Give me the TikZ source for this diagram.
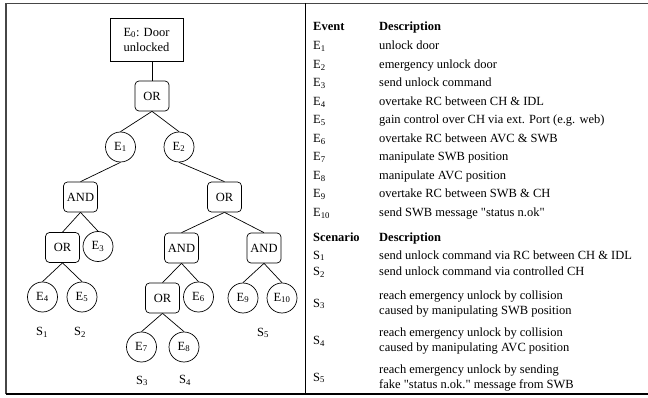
\documentclass[tikz,border=0pt]{standalone}
\usepackage{fontspec}
\setmainfont{Liberation Serif}[Ligatures=TeXOff]
\begin{document}
\begin{tikzpicture}[x=1pt, y=-1pt,
  font=\fontsize{12.5}{15}\selectfont,
  gate/.style={draw, rounded corners=4pt, minimum width=34pt, minimum height=30pt, inner sep=0pt, line width=0.7pt},
  ev/.style={draw, circle, minimum size=30pt, inner sep=0pt, line width=0.7pt},
  link/.style={line width=0.7pt},
  cell/.style={anchor=base west, inner sep=0pt},
  multi/.style={anchor=west, inner sep=0pt, align=left},
  frame/.style={line width=1.3pt, gray!55!black}]
\useasboundingbox (0,0) rectangle (648,398);

% frame and divider
\coordinate (ftl) at (6,3.5);
\coordinate (ftr) at (648,3.5);
\coordinate (fbl) at (6,394);
\coordinate (fbr) at (648,394);
\coordinate (dt) at (305,3.5);
\coordinate (db) at (305,394);
\draw[frame] (ftr) -- (ftl) -- (fbl);
\draw[line width=1.3pt] (fbl) -- (fbr);
\draw[line width=0.8pt] (dt) -- (db);

% fault tree
\node[draw, line width=0.7pt, minimum width=73pt, minimum height=43pt, inner sep=0pt, align=center]
  (top) at (146.5,39.5) {E\textsubscript{0}: Door\\unlocked};
\node[gate] (or1) at (152,96) {OR};
\node[ev] (e1) at (120.5,147) {E\textsubscript{1}};
\node[ev] (e2) at (179,147) {E\textsubscript{2}};
\node[gate] (and1) at (80.5,197) {AND};
\node[gate] (or2) at (224.5,197) {OR};
\node[gate] (or3) at (62.5,247.5) {OR};
\node[ev] (e3) at (98,246.5) {E\textsubscript{3}};
\node[gate] (and2) at (181.5,248) {AND};
\node[gate] (and3) at (264,248) {AND};
\node[ev] (e4) at (42.5,297) {E\textsubscript{4}};
\node[ev] (e5) at (82,297) {E\textsubscript{5}};
\node[gate] (or4) at (162.5,298) {OR};
\node[ev] (e6) at (198.5,297) {E\textsubscript{6}};
\node[ev] (e9) at (243,298) {E\textsubscript{9}};
\node[ev] (e10) at (282,298) {E\textsubscript{10}};
\node[ev] (e7) at (141.5,347) {E\textsubscript{7}};
\node[ev] (e8) at (184,347) {E\textsubscript{8}};

\draw[link] (top.south -| or1.north) -- (or1.north);
\foreach \p/\c in {or1/e1, or1/e2, e1/and1, e2/or2, and1/or3, and1/e3,
                   or2/and2, or2/and3, or3/e4, or3/e5, and2/or4, and2/e6,
                   and3/e9, and3/e10, or4/e7, or4/e8}
  \draw[link] (\p.south) -- (\c.north);

% scenario markers
\node (s1) at (42,332) {S\textsubscript{1}};
\node (s2) at (80,332) {S\textsubscript{2}};
\node (s5) at (263,333) {S\textsubscript{5}};
\node (s3) at (142,381) {S\textsubscript{3}};
\node (s4) at (185,380) {S\textsubscript{4}};

% event table
\node[cell] (hev) at (313,31) {\textbf{Event}};
\node[cell] (hdesc) at (379,31) {\textbf{Description}};
\foreach \i/\d [count=\k from 0] in {1/unlock door, 2/emergency unlock door, 3/send unlock command,
    4/overtake RC between CH \& IDL, 5/gain control over CH via ext. Port (e.g. web),
    6/overtake RC between AVC \& SWB, 7/manipulate SWB position, 8/manipulate AVC position,
    9/overtake RC between SWB \& CH, 10/send SWB message "status n.ok"} {
  \node[cell] (ev\i) at (313,50+18.5*\k) {E\textsubscript{\i}};
  \node[cell] (evd\i) at (379,50+18.5*\k) {\d};
}

% scenario table
\node[cell] (hsc) at (313,241) {\textbf{Scenario}};
\node[cell] (hsdesc) at (379,241) {\textbf{Description}};
\node[cell] (sc1) at (313,259) {S\textsubscript{1}};
\node[cell] (scd1) at (379,259) {send unlock command via RC between CH \& IDL};
\node[cell] (sc2) at (313,276) {S\textsubscript{2}};
\node[cell] (scd2) at (379,276) {send unlock command via controlled CH};
\node[multi] (sc3) at (313,304) {S\textsubscript{3}};
\node[multi] (scd3) at (379,304) {reach emergency unlock by collision\\caused by manipulating SWB position};
\node[multi] (sc4) at (313,341) {S\textsubscript{4}};
\node[multi] (scd4) at (379,341) {reach emergency unlock by collision\\caused by manipulating AVC position};
\node[multi] (sc5) at (313,378) {S\textsubscript{5}};
\node[multi] (scd5) at (379,378) {reach emergency unlock by sending\\fake "status n.ok." message from SWB};
\end{tikzpicture}
\end{document}
